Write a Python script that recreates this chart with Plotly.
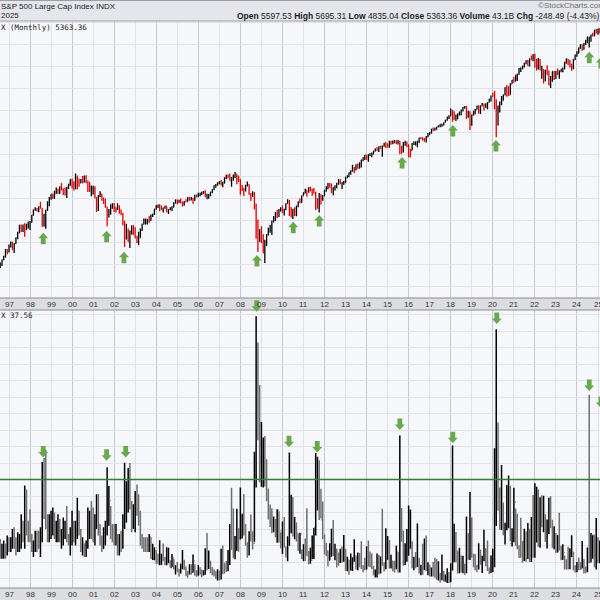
import pandas as pd
import plotly.graph_objects as go

# ---------------- DATA (monthly, Jul 1996 .. Apr 2025) ----------------
spx_close = [
    639.95, 651.99, 687.33, 705.27, 757.02, 740.74,
    786.16, 790.82, 757.12, 801.34, 848.28, 885.14, 954.31, 899.47, 947.28, 914.62, 955.40, 970.43,
    980.28, 1049.34, 1101.75, 1111.75, 1090.82, 1133.84, 1120.67, 957.28, 1017.01, 1098.67, 1163.63, 1229.23,
    1279.64, 1238.33, 1286.37, 1335.18, 1301.84, 1372.71, 1328.72, 1320.41, 1282.71, 1362.93, 1388.91, 1469.25,
    1394.46, 1366.42, 1498.58, 1452.43, 1420.60, 1454.60, 1430.83, 1517.68, 1436.51, 1429.40, 1314.95, 1320.28,
    1366.01, 1239.94, 1160.33, 1249.46, 1255.82, 1224.42, 1211.23, 1133.58, 1040.94, 1059.78, 1139.45, 1148.08,
    1130.20, 1106.73, 1147.39, 1076.92, 1067.14, 989.82, 911.62, 916.07, 815.28, 885.76, 936.31, 879.82,
    855.70, 841.15, 848.18, 916.92, 963.59, 974.50, 990.31, 1008.01, 995.97, 1050.71, 1058.20, 1111.92,
    1131.13, 1144.94, 1126.21, 1107.30, 1120.68, 1140.84, 1101.72, 1104.24, 1114.58, 1130.20, 1173.82, 1211.92,
    1181.27, 1203.60, 1180.59, 1156.85, 1191.50, 1191.33, 1234.18, 1220.33, 1228.81, 1207.01, 1249.48, 1248.29,
    1280.08, 1280.66, 1294.83, 1310.61, 1270.09, 1270.20, 1276.66, 1303.82, 1335.85, 1377.94, 1400.63, 1418.30,
    1438.24, 1406.82, 1420.86, 1482.37, 1530.62, 1503.35, 1455.27, 1473.99, 1526.75, 1549.38, 1481.14, 1468.36,
    1378.55, 1330.63, 1322.70, 1385.59, 1400.38, 1280.00, 1267.38, 1282.83, 1166.36, 968.75, 896.24, 903.25,
    825.88, 735.09, 797.87, 872.81, 919.14, 919.32, 987.48, 1020.62, 1057.08, 1036.19, 1095.63, 1115.10,
    1073.87, 1104.49, 1169.43, 1186.69, 1089.41, 1030.71, 1101.60, 1049.33, 1141.20, 1183.26, 1180.55, 1257.64,
    1286.12, 1327.22, 1325.83, 1363.61, 1345.20, 1320.64, 1292.28, 1218.89, 1131.42, 1253.30, 1246.96, 1257.60,
    1312.41, 1365.68, 1408.47, 1397.91, 1310.33, 1362.16, 1379.32, 1406.58, 1440.67, 1412.16, 1416.18, 1426.19,
    1498.11, 1514.68, 1569.19, 1597.57, 1630.74, 1606.28, 1685.73, 1632.97, 1681.55, 1756.54, 1805.81, 1848.36,
    1782.59, 1859.45, 1872.34, 1883.95, 1923.57, 1960.23, 1930.67, 2003.37, 1972.29, 2018.05, 2067.56, 2058.90,
    1994.99, 2104.50, 2067.89, 2085.51, 2107.39, 2063.11, 2103.84, 1972.18, 1920.03, 2079.36, 2080.41, 2043.94,
    1940.24, 1932.23, 2059.74, 2065.30, 2096.95, 2098.86, 2173.60, 2170.95, 2168.27, 2126.15, 2198.81, 2238.83,
    2278.87, 2363.64, 2362.72, 2384.20, 2411.80, 2423.41, 2470.30, 2471.65, 2519.36, 2575.26, 2647.58, 2673.61,
    2823.81, 2713.83, 2640.87, 2648.05, 2705.27, 2718.37, 2816.29, 2901.52, 2913.98, 2711.74, 2760.17, 2506.85,
    2704.10, 2784.49, 2834.40, 2945.83, 2752.06, 2941.76, 2980.38, 2926.46, 2976.74, 3037.56, 3140.98, 3230.78,
    3225.52, 2954.22, 2584.59, 2912.43, 3044.31, 3100.29, 3271.12, 3500.31, 3363.00, 3269.96, 3621.63, 3756.07,
    3714.24, 3811.15, 3972.89, 4181.17, 4204.11, 4297.50, 4395.26, 4522.68, 4307.54, 4605.38, 4567.00, 4766.18,
    4515.55, 4373.94, 4530.41, 4131.93, 4132.15, 3785.38, 4130.29, 3955.00, 3585.62, 3871.98, 4080.11, 3839.50,
    4076.60, 3970.15, 4109.31, 4169.48, 4179.83, 4450.38, 4588.96, 4507.66, 4288.05, 4193.80, 4567.80, 4769.83,
    4845.65, 5096.27, 5254.35, 5035.69, 5277.51, 5460.48, 5522.30, 5648.40, 5762.48, 5705.45, 6032.38, 5881.63,
    6040.53, 5954.50, 5611.85, 5363.36,
]
spx_high = [
    673, 671, 690, 714, 762, 762,
    794, 818, 815, 805, 850, 897, 955, 961, 961, 972, 967, 987,
    992, 1050, 1106, 1131, 1123, 1142, 1190, 1122, 1064, 1103, 1196, 1245,
    1279, 1282, 1320, 1361, 1347, 1375, 1421, 1354, 1361, 1373, 1410, 1473,
    1478, 1444, 1553, 1527, 1482, 1477, 1517, 1525, 1530, 1454, 1431, 1389,
    1384, 1377, 1242, 1269, 1316, 1288, 1239, 1226, 1135, 1111, 1163, 1173,
    1176, 1131, 1173, 1150, 1107, 1071, 994, 966, 925, 907, 951, 955,
    936, 864, 896, 924, 966, 1016, 1015, 1011, 1040, 1054, 1064, 1112,
    1155, 1159, 1163, 1150, 1128, 1147, 1141, 1110, 1131, 1142, 1184, 1217,
    1217, 1212, 1229, 1192, 1200, 1219, 1246, 1245, 1244, 1233, 1271, 1276,
    1295, 1297, 1310, 1318, 1326, 1285, 1280, 1307, 1340, 1390, 1407, 1431,
    1441, 1461, 1438, 1499, 1535, 1541, 1556, 1504, 1539, 1576, 1545, 1524,
    1471, 1396, 1359, 1397, 1440, 1405, 1292, 1314, 1304, 1167, 1007, 919,
    944, 876, 832, 877, 930, 957, 997, 1040, 1080, 1101, 1111, 1130,
    1150, 1113, 1174, 1220, 1209, 1132, 1113, 1130, 1149, 1196, 1227, 1263,
    1303, 1345, 1332, 1366, 1371, 1346, 1357, 1307, 1230, 1292, 1278, 1270,
    1333, 1378, 1420, 1422, 1416, 1363, 1392, 1426, 1475, 1471, 1434, 1448,
    1509, 1531, 1571, 1598, 1688, 1654, 1698, 1710, 1730, 1776, 1813, 1850,
    1851, 1867, 1884, 1897, 1924, 1968, 1991, 2006, 2019, 2019, 2075, 2093,
    2064, 2120, 2118, 2126, 2135, 2129, 2133, 2113, 2021, 2094, 2117, 2104,
    2039, 1963, 2073, 2111, 2103, 2121, 2178, 2194, 2188, 2169, 2214, 2278,
    2301, 2372, 2401, 2398, 2418, 2454, 2484, 2491, 2520, 2582, 2658, 2695,
    2873, 2836, 2802, 2718, 2742, 2791, 2848, 2917, 2941, 2940, 2816, 2800,
    2708, 2813, 2861, 2949, 2954, 2965, 3028, 3014, 3022, 3050, 3154, 3248,
    3338, 3394, 3137, 2955, 3068, 3233, 3280, 3514, 3588, 3550, 3646, 3760,
    3870, 3950, 3994, 4219, 4238, 4302, 4430, 4537, 4546, 4608, 4744, 4808,
    4819, 4595, 4637, 4594, 4307, 4177, 4140, 4325, 4119, 3905, 4080, 4101,
    4095, 4195, 4110, 4170, 4232, 4458, 4607, 4593, 4541, 4393, 4587, 4793,
    4932, 5111, 5265, 5264, 5342, 5505, 5670, 5651, 5768, 5879, 6045, 6100,
    6128, 6147, 5987, 5695,
]
spx_low = [
    605, 636, 649, 684, 703, 724,
    737, 773, 756, 733, 800, 836, 886, 897, 894, 855, 914, 924,
    912, 979, 1044, 1094, 1087, 1078, 1114, 940, 940, 923, 1093, 1142,
    1212, 1223, 1226, 1283, 1282, 1280, 1328, 1269, 1263, 1233, 1342, 1385,
    1350, 1325, 1339, 1339, 1373, 1420, 1416, 1430, 1419, 1305, 1307, 1254,
    1275, 1228, 1081, 1091, 1245, 1203, 1165, 1124, 944, 1026, 1054, 1114,
    1081, 1075, 1105, 1063, 1049, 952, 776, 833, 815, 769, 873, 868,
    841, 807, 789, 847, 902, 960, 961, 961, 975, 995, 1030, 1050,
    1105, 1122, 1088, 1102, 1076, 1113, 1079, 1060, 1098, 1090, 1130, 1173,
    1163, 1180, 1172, 1137, 1146, 1188, 1192, 1201, 1206, 1168, 1201, 1245,
    1246, 1253, 1268, 1280, 1245, 1219, 1224, 1253, 1291, 1327, 1360, 1385,
    1403, 1389, 1364, 1416, 1476, 1485, 1454, 1371, 1452, 1490, 1406, 1435,
    1271, 1317, 1257, 1312, 1374, 1272, 1200, 1247, 1107, 840, 741, 815,
    805, 734, 667, 784, 866, 888, 869, 979, 992, 1020, 1030, 1086,
    1071, 1045, 1102, 1170, 1040, 1029, 1011, 1040, 1039, 1131, 1173, 1181,
    1263, 1290, 1249, 1295, 1311, 1259, 1283, 1102, 1114, 1075, 1159, 1202,
    1259, 1312, 1340, 1358, 1292, 1267, 1325, 1354, 1397, 1403, 1343, 1398,
    1426, 1485, 1501, 1537, 1581, 1560, 1605, 1627, 1633, 1646, 1746, 1767,
    1770, 1738, 1834, 1815, 1862, 1915, 1930, 1905, 1965, 1821, 2001, 1973,
    1988, 1981, 2040, 2048, 2068, 2056, 2045, 1867, 1872, 1894, 2020, 1993,
    1812, 1810, 1938, 2034, 2025, 1992, 2075, 2148, 2120, 2097, 2084, 2188,
    2245, 2271, 2323, 2329, 2353, 2405, 2407, 2418, 2446, 2521, 2557, 2605,
    2682, 2533, 2585, 2554, 2595, 2692, 2699, 2796, 2864, 2604, 2631, 2347,
    2444, 2681, 2722, 2848, 2750, 2729, 2952, 2822, 2892, 2856, 3051, 3070,
    3215, 2855, 2192, 2447, 2767, 2966, 3101, 3252, 3210, 3234, 3279, 3633,
    3662, 3725, 3723, 3955, 4057, 4165, 4233, 4367, 4306, 4279, 4561, 4495,
    4223, 4115, 4157, 4124, 3811, 3637, 3721, 3954, 3585, 3492, 3699, 3764,
    3795, 3944, 3809, 4049, 4048, 4167, 4385, 4335, 4238, 4104, 4167, 4546,
    4682, 4845, 5057, 4953, 5011, 5234, 5330, 5120, 5403, 5674, 5696, 5833,
    5774, 5837, 5505, 4835,
]
spx_prev_close = 670.63  # June 1996 close

vix_close = [
    18.8, 18.0, 19.1, 19.3, 19.0, 20.9,
    19.5, 20.0, 22.1, 20.2, 19.1, 20.1, 20.1, 26.3, 23.3, 35.1, 25.3, 24.0,
    22.5, 19.3, 20.0, 22.4, 22.0, 19.7, 24.9, 44.3, 40.9, 28.9, 24.0, 24.4,
    26.3, 27.1, 23.2, 25.1, 26.1, 21.1, 23.2, 24.3, 25.4, 22.0, 22.0, 24.6,
    24.9, 23.4, 24.1, 26.2, 23.7, 19.5, 20.7, 17.0, 20.6, 26.7, 29.7, 26.9,
    22.0, 28.0, 28.6, 25.5, 21.6, 19.1, 23.4, 24.9, 31.9, 33.6, 24.0, 23.8,
    21.1, 21.6, 17.4, 21.9, 19.9, 25.4, 32.0, 32.6, 39.7, 31.1, 27.5, 28.6,
    31.2, 29.6, 29.2, 21.2, 19.5, 19.5, 19.5, 19.4, 22.7, 16.1, 16.3, 18.3,
    16.6, 14.5, 16.7, 17.0, 15.5, 14.3, 15.3, 15.3, 13.3, 16.3, 13.2, 13.3,
    12.8, 12.1, 14.0, 15.3, 13.3, 12.0, 11.6, 12.6, 11.9, 15.3, 12.1, 12.1,
    12.95, 12.3, 11.4, 11.6, 16.4, 13.1, 14.95, 12.3, 12.0, 11.1, 10.9, 11.6,
    10.4, 15.4, 14.6, 14.2, 13.1, 16.2, 23.5, 23.4, 18.0, 18.5, 22.9, 22.5,
    26.2, 26.5, 25.6, 20.8, 17.8, 24.0, 22.9, 20.7, 39.4, 59.9, 55.3, 40.0,
    44.8, 46.4, 44.1, 36.5, 28.9, 26.4, 25.9, 26.0, 25.6, 30.7, 24.5, 21.7,
    24.6, 19.5, 17.6, 22.1, 32.1, 34.5, 23.5, 26.1, 23.7, 21.2, 23.5, 17.8,
    19.5, 18.4, 17.7, 14.8, 15.5, 16.5, 25.3, 31.6, 43.0, 30.0, 27.8, 23.4,
    19.4, 18.4, 15.5, 17.2, 24.1, 17.1, 18.9, 17.5, 15.7, 18.6, 15.9, 18.0,
    14.3, 15.5, 12.7, 13.5, 16.3, 16.9, 13.5, 17.0, 16.6, 13.8, 13.7, 13.7,
    18.4, 14.0, 13.9, 13.4, 11.4, 11.6, 17.0, 12.1, 16.3, 14.0, 13.3, 19.2,
    21.0, 13.3, 15.3, 14.6, 13.8, 18.2, 12.1, 28.4, 24.5, 15.1, 16.1, 18.2,
    20.2, 20.6, 14.0, 15.7, 14.2, 15.6, 11.9, 13.4, 13.3, 17.1, 13.3, 14.0,
    12.0, 12.9, 12.4, 10.8, 10.4, 11.2, 10.3, 10.6, 9.5, 10.2, 11.3, 11.0,
    13.5, 19.9, 20.0, 15.9, 15.4, 16.1, 12.8, 12.9, 12.1, 21.2, 18.1, 25.4,
    16.6, 14.8, 13.7, 13.1, 18.7, 15.1, 16.1, 19.0, 16.2, 13.2, 12.6, 13.8,
    18.8, 40.1, 53.5, 34.2, 27.5, 30.4, 24.5, 26.4, 26.4, 38.0, 20.6, 22.8,
    33.1, 28.0, 19.4, 18.6, 16.8, 15.8, 18.2, 16.5, 23.1, 16.3, 27.2, 17.2,
    24.8, 30.2, 20.6, 33.4, 26.2, 28.7, 21.3, 25.9, 31.6, 25.9, 20.6, 21.7,
    19.4, 20.7, 18.7, 15.8, 17.9, 13.6, 13.6, 13.6, 17.5, 18.1, 12.9, 12.5,
    14.4, 13.4, 13.0, 15.7, 12.9, 12.4, 16.4, 15.0, 16.7, 23.2, 13.5, 17.4,
    16.4, 19.6, 22.3, 37.56,
]
vix_high = [
    23.0, 22.0, 20.5, 21.5, 20.5, 23.0,
    22.5, 22.5, 25.0, 25.5, 22.5, 24.0, 23.5, 29.5, 27.5, 38.2, 37.0, 27.5,
    31.0, 23.5, 21.5, 24.5, 24.5, 24.5, 25.5, 45.3, 46.5, 49.0, 29.5, 29.5,
    30.5, 31.5, 30.0, 27.5, 29.5, 28.0, 25.0, 28.5, 27.5, 32.0, 23.5, 25.5,
    30.5, 27.5, 27.5, 34.5, 30.5, 25.0, 22.5, 20.5, 21.5, 31.5, 30.5, 33.5,
    31.5, 29.5, 35.5, 35.5, 26.5, 23.0, 25.5, 27.5, 43.7, 38.0, 32.0, 26.5,
    26.5, 26.5, 23.5, 23.5, 24.5, 29.5, 45.1, 39.5, 43.5, 45.0, 33.5, 32.5,
    36.5, 38.5, 35.5, 30.5, 23.5, 22.5, 22.5, 22.5, 23.5, 22.5, 20.5, 19.5,
    18.6, 17.5, 21.6, 17.5, 20.6, 16.5, 19.5, 19.3, 15.5, 17.4, 16.0, 14.0,
    15.0, 12.9, 14.5, 18.6, 15.7, 13.6, 12.3, 14.3, 14.3, 17.3, 14.3, 12.5,
    14.1, 13.4, 12.7, 12.5, 19.2, 23.8, 18.5, 15.4, 13.5, 12.7, 12.2, 12.8,
    12.4, 19.0, 20.0, 14.6, 15.3, 18.6, 26.5, 37.5, 31.2, 22.9, 31.1, 25.2,
    37.6, 29.6, 35.6, 26.5, 20.9, 24.3, 29.4, 24.3, 48.4, 89.5, 81.5, 68.6,
    57.4, 52.7, 53.2, 46.1, 37.3, 32.4, 31.3, 28.8, 28.0, 31.0, 30.4, 24.0,
    27.3, 28.6, 19.6, 22.8, 48.2, 35.4, 34.6, 28.6, 27.0, 23.6, 23.9, 18.8,
    20.4, 22.1, 31.3, 18.3, 19.3, 23.0, 25.3, 48.0, 46.9, 45.8, 37.2, 33.3,
    23.2, 20.8, 18.4, 20.7, 25.1, 27.7, 20.5, 19.0, 17.9, 19.0, 19.7, 23.2,
    19.0, 16.6, 15.7, 17.6, 16.4, 21.9, 16.9, 17.9, 17.7, 21.3, 14.1, 16.3,
    19.8, 21.5, 18.2, 17.6, 13.9, 12.7, 17.6, 17.1, 16.7, 31.1, 14.9, 25.2,
    22.9, 21.7, 17.2, 15.3, 15.4, 19.9, 18.0, 53.3, 31.4, 24.5, 20.7, 25.0,
    32.1, 30.9, 21.3, 16.6, 18.0, 26.7, 16.3, 14.2, 20.5, 22.1, 23.0, 14.9,
    14.2, 13.3, 15.0, 16.3, 15.9, 15.2, 11.7, 17.3, 12.3, 11.2, 13.1, 12.0,
    14.6, 50.3, 26.6, 24.1, 18.5, 19.3, 17.0, 16.9, 14.5, 28.8, 23.8, 36.2,
    28.5, 17.5, 17.4, 14.2, 20.7, 18.6, 16.9, 24.8, 19.1, 21.5, 13.3, 17.0,
    19.0, 49.5, 85.5, 57.3, 37.6, 44.4, 33.0, 26.9, 38.3, 41.2, 38.0, 25.2,
    37.5, 31.2, 29.6, 20.1, 28.4, 21.4, 25.1, 24.3, 26.8, 25.1, 28.6, 35.3,
    38.9, 37.8, 37.0, 34.6, 35.2, 35.1, 29.5, 27.9, 34.5, 34.9, 27.8, 25.8,
    23.8, 23.2, 29.9, 19.9, 20.4, 17.0, 15.8, 19.6, 19.2, 23.1, 18.0, 14.0,
    15.0, 16.4, 15.0, 21.4, 15.9, 13.6, 19.4, 65.7, 23.8, 23.1, 23.1, 28.3,
    22.5, 21.5, 29.6, 60.1,
]
vix_low = [
    13.5, 16.0, 16.0, 16.0, 16.0, 17.0,
    18.0, 18.0, 19.0, 19.0, 17.0, 18.0, 18.0, 19.0, 21.0, 19.0, 23.0, 21.0,
    21.0, 18.0, 16.5, 18.0, 18.0, 19.0, 16.5, 21.0, 28.0, 25.0, 21.0, 21.0,
    22.0, 23.0, 22.0, 21.0, 21.0, 21.0, 19.0, 20.0, 22.0, 21.0, 20.0, 17.0,
    20.0, 21.0, 20.0, 22.0, 23.0, 18.0, 17.0, 16.5, 16.5, 19.0, 22.0, 22.0,
    21.0, 20.0, 25.0, 23.0, 20.0, 18.0, 19.0, 20.0, 23.0, 26.0, 22.0, 21.0,
    20.0, 20.0, 17.0, 17.0, 18.0, 19.0, 25.0, 27.0, 30.0, 31.0, 24.0, 25.0,
    24.0, 29.0, 26.0, 20.0, 19.0, 18.0, 18.0, 18.0, 18.0, 16.0, 15.6, 15.5,
    14.5, 14.5, 14.0, 14.1, 15.2, 14.0, 14.0, 14.6, 13.3, 13.5, 12.7, 11.2,
    12.0, 10.6, 11.5, 12.8, 12.6, 10.7, 10.2, 11.2, 11.1, 11.8, 10.8, 10.5,
    10.8, 11.1, 10.4, 10.9, 11.1, 12.5, 12.9, 11.6, 11.0, 10.6, 9.9, 9.4,
    9.4, 9.7, 11.3, 11.5, 12.0, 12.2, 14.1, 18.6, 16.2, 15.8, 18.4, 18.1,
    21.8, 22.1, 23.0, 19.9, 16.3, 17.0, 21.2, 18.8, 21.1, 37.6, 51.9, 39.2,
    37.8, 37.6, 37.9, 33.4, 27.9, 25.6, 23.7, 24.0, 22.5, 20.8, 20.9, 19.2,
    17.4, 19.5, 16.4, 15.2, 19.9, 23.7, 22.7, 21.9, 21.2, 18.3, 17.5, 15.9,
    15.2, 15.3, 16.8, 14.3, 14.5, 15.9, 15.9, 23.0, 30.6, 27.7, 28.2, 21.9,
    17.3, 16.8, 13.7, 15.5, 16.6, 16.8, 15.5, 13.3, 13.9, 14.7, 14.8, 15.1,
    12.3, 12.2, 11.1, 12.4, 12.3, 15.1, 12.7, 12.5, 13.4, 12.9, 11.9, 12.5,
    12.7, 13.6, 13.4, 12.9, 11.0, 10.3, 10.3, 11.2, 11.5, 13.9, 12.1, 12.8,
    15.7, 13.0, 13.0, 12.2, 11.8, 12.8, 11.8, 11.8, 21.1, 13.9, 14.1, 15.1,
    16.9, 19.0, 13.1, 12.5, 13.1, 13.5, 11.5, 11.0, 11.1, 12.6, 12.2, 11.0,
    10.6, 10.6, 10.6, 10.2, 9.6, 9.4, 8.8, 9.5, 9.1, 9.0, 8.6, 8.6,
    8.9, 12.4, 14.9, 14.9, 11.5, 11.6, 11.8, 11.6, 11.1, 11.6, 15.7, 15.6,
    16.3, 13.4, 12.5, 11.9, 12.7, 14.2, 11.7, 15.2, 13.7, 12.3, 11.4, 11.7,
    12.0, 13.4, 25.9, 30.5, 24.8, 24.7, 23.1, 20.3, 24.6, 25.2, 21.3, 19.7,
    21.0, 19.9, 18.9, 16.2, 16.3, 14.8, 15.3, 15.1, 15.9, 15.0, 15.0, 16.3,
    16.3, 20.9, 19.6, 19.3, 25.5, 24.0, 21.1, 19.1, 23.5, 25.2, 19.3, 18.9,
    17.7, 17.9, 18.5, 15.5, 15.7, 12.7, 12.7, 12.7, 12.8, 16.5, 12.5, 11.8,
    11.9, 12.5, 12.6, 13.1, 11.5, 11.6, 11.9, 14.6, 14.9, 16.0, 13.5, 12.7,
    14.6, 14.6, 18.5, 20.5,
]
vix_prev_close = 16.4  # June 1996 close

# signal arrows (date, level at arrow tip)
top_arrow_dates = ['1998-08-18', '2001-08-23', '2002-06-20', '2008-10-15', '2010-07-07', '2011-10-01',
                   '2015-09-09', '2018-02-06', '2020-02-25', '2024-08-02', '2025-02-20']
top_arrow_levels = [888, 906, 742, 719, 985, 1050, 1818, 2460, 2135, 4915, 4676]
bot_arrow_dates = ['1998-08-18', '2001-08-23', '2002-07-20', '2008-10-10', '2010-04-25', '2011-08-28',
                   '2015-08-01', '2018-02-06', '2020-03-10', '2024-08-02', '2025-02-20']
bot_arrow_levels = [46.7, 45.7, 46.7, 90.8, 49.8, 48.2, 55.0, 51.0, 87.1, 66.8, 61.7]

vix_signal_level = 40
year_ticks = ['1997', '1998', '1999', '2000', '2001', '2002', '2003', '2004', '2005', '2006',
              '2007', '2008', '2009', '2010', '2011', '2012', '2013', '2014', '2015', '2016',
              '2017', '2018', '2019', '2020', '2021', '2022', '2023', '2024', '2025']
year_labels = ['97', '98', '99', '00', '01', '02', '03', '04', '05', '06', '07', '08', '09', '10',
               '11', '12', '13', '14', '15', '16', '17', '18', '19', '20', '21', '22', '23', '24', '25']

assert len(spx_close) == len(spx_high) == len(spx_low) == len(vix_close) == len(vix_high) == len(vix_low)

months = pd.date_range('1996-07-01', periods=len(spx_close), freq='MS')
spx_open = [spx_prev_close] + spx_close[:-1]
vix_open = [vix_prev_close] + vix_close[:-1]

# ---------------- STYLE ----------------
H = 600.0
def py(px):
    return 1 - px / H

GREEN = '#6aa84f'
PLOT_BG = '#f6f7fa'
GRID_LIGHT = '#dfe2e8'
GRID_DARK = '#c3c8d0'
XRANGE = ['1996-07-28 17:00', '2025-02-04 14:00']
FONT = 'Liberation Sans'

fig = go.Figure()
fig.add_trace(go.Ohlc(
    x=months, open=spx_open, high=spx_high, low=spx_low, close=spx_close,
    increasing=dict(line=dict(color='#000000', width=1.3)),
    decreasing=dict(line=dict(color='#e00000', width=1.3)),
    tickwidth=0.4, xaxis='x', yaxis='y', showlegend=False, hoverinfo='skip'))
fig.add_trace(go.Ohlc(
    x=months, open=vix_open, high=vix_high, low=vix_low, close=vix_close,
    increasing=dict(line=dict(color='#000000', width=1.5)),
    decreasing=dict(line=dict(color='#6f6f6f', width=1.5)),
    tickwidth=0.4, xaxis='x2', yaxis='y2', showlegend=False, hoverinfo='skip'))

xcommon = dict(type='date', range=XRANGE, showticklabels=False, ticks='',
               showgrid=True, gridcolor=GRID_DARK, gridwidth=1, dtick='M24', tick0='1998-01-01',
               minor=dict(dtick='M12', tick0='1997-01-01', showgrid=True, gridcolor=GRID_LIGHT, gridwidth=1),
               rangeslider=dict(visible=False), zeroline=False, showline=False, fixedrange=True)

fig.update_layout(
    width=600, height=600, margin=dict(l=0, r=0, t=0, b=0),
    paper_bgcolor='#ffffff', plot_bgcolor=PLOT_BG,
    xaxis=dict(domain=[0, 1], anchor='y', **xcommon),
    xaxis2=dict(domain=[0, 1], anchor='y2', matches='x', **xcommon),
    yaxis=dict(domain=[py(298), py(21)], type='log', range=[2.6806, 3.8177],
               tick0=3, dtick=0.0903, showticklabels=False, ticks='',
               gridcolor=GRID_LIGHT, zeroline=False, fixedrange=True),
    yaxis2=dict(domain=[py(588), py(298)], range=[7.12, 95.0], dtick=5, tick0=0,
                showticklabels=False, ticks='', gridcolor=GRID_LIGHT, zeroline=False, fixedrange=True),
    showlegend=False,
)

shapes = []
# header
shapes.append(dict(type='rect', xref='paper', yref='paper', x0=0, x1=1, y0=py(21), y1=1,
                   fillcolor='#e4e6eb', line=dict(width=0), layer='above'))
shapes.append(dict(type='line', xref='paper', yref='paper', x0=0, x1=1, y0=py(21), y1=py(21),
                   line=dict(color='#9a9ea6', width=1), layer='above'))
shapes.append(dict(type='line', xref='paper', yref='paper', x0=0, x1=1, y0=py(0.5), y1=py(0.5),
                   line=dict(color='#9a9ea6', width=1), layer='above'))
# date bands
for top, bot in [(298, 310), (588, 600.5)]:
    shapes.append(dict(type='rect', xref='paper', yref='paper', x0=-0.01, x1=1.01, y0=py(bot), y1=py(top),
                       fillcolor='#dcdde1', line=dict(color='#8c8c8c', width=1), layer='above'))
# VIX signal line
shapes.append(dict(type='line', xref='x2 domain', yref='y2', x0=0, x1=1,
                   y0=vix_signal_level, y1=vix_signal_level,
                   line=dict(color='#2e7d32', width=1.6), layer='above'))
UP = 'M0,0 L5,-5.5 L2.4,-5.5 L2.4,-11.5 L-2.4,-11.5 L-2.4,-5.5 L-5,-5.5 Z'
DOWN = 'M0,0 L5,5.5 L2.4,5.5 L2.4,11.5 L-2.4,11.5 L-2.4,5.5 L-5,5.5 Z'
for d, v in zip(top_arrow_dates, top_arrow_levels):
    shapes.append(dict(type='path', xref='x', yref='y', xsizemode='pixel', ysizemode='pixel',
                       xanchor=d, yanchor=v, path=UP, fillcolor=GREEN, line=dict(width=0), layer='above'))
for d, v in zip(bot_arrow_dates, bot_arrow_levels):
    shapes.append(dict(type='path', xref='x2', yref='y2', xsizemode='pixel', ysizemode='pixel',
                       xanchor=d, yanchor=v, path=DOWN, fillcolor=GREEN, line=dict(width=0), layer='above'))
fig.update_layout(shapes=shapes)

ann = []
def text(x, y, s, size=8, family=FONT, color='#1a1a1a', anchor='left'):
    ann.append(dict(xref='paper', yref='paper', x=x, y=y, text=s, showarrow=False,
                    xanchor=anchor, yanchor='middle', borderpad=0,
                    font=dict(family=family, size=size, color=color)))

text(0, py(6), 'S&amp;P 500 Large Cap Index INDX', size=8)
text(0, py(16), '2025', size=8)
text(537 / H, py(5.5), '©StockCharts.com', size=8, color='#6e6e6e')
text(1, py(16.5), '<b>Open</b> 5597.53 <b>High</b> 5695.31 <b>Low</b> 4835.04 <b>Close</b> 5363.36 '
                  '<b>Volume</b> 43.1B <b>Chg</b> -248.49 (-4.43%)', size=8.5, anchor='right')
text(0, py(27.5), 'X (Monthly) 5363.36', size=7.5, family='DejaVu Sans Mono')
text(0, py(315.5), 'X 37.56', size=7.5, family='DejaVu Sans Mono')

for yr, lab in zip(year_ticks, year_labels):
    for band_y in (304, 594):
        ann.append(dict(xref='x', yref='paper', x=yr + '-01-01', y=py(band_y), text=lab,
                        showarrow=False, xanchor='center', yanchor='middle', borderpad=0,
                        font=dict(family=FONT, size=8, color='#333333')))
fig.update_layout(annotations=ann)

fig.write_html('out.html', config={'displayModeBar': False, 'staticPlot': True},
               post_script="document.body.style.margin='0';document.body.style.padding='0';"
                           "document.body.style.overflow='hidden';")
